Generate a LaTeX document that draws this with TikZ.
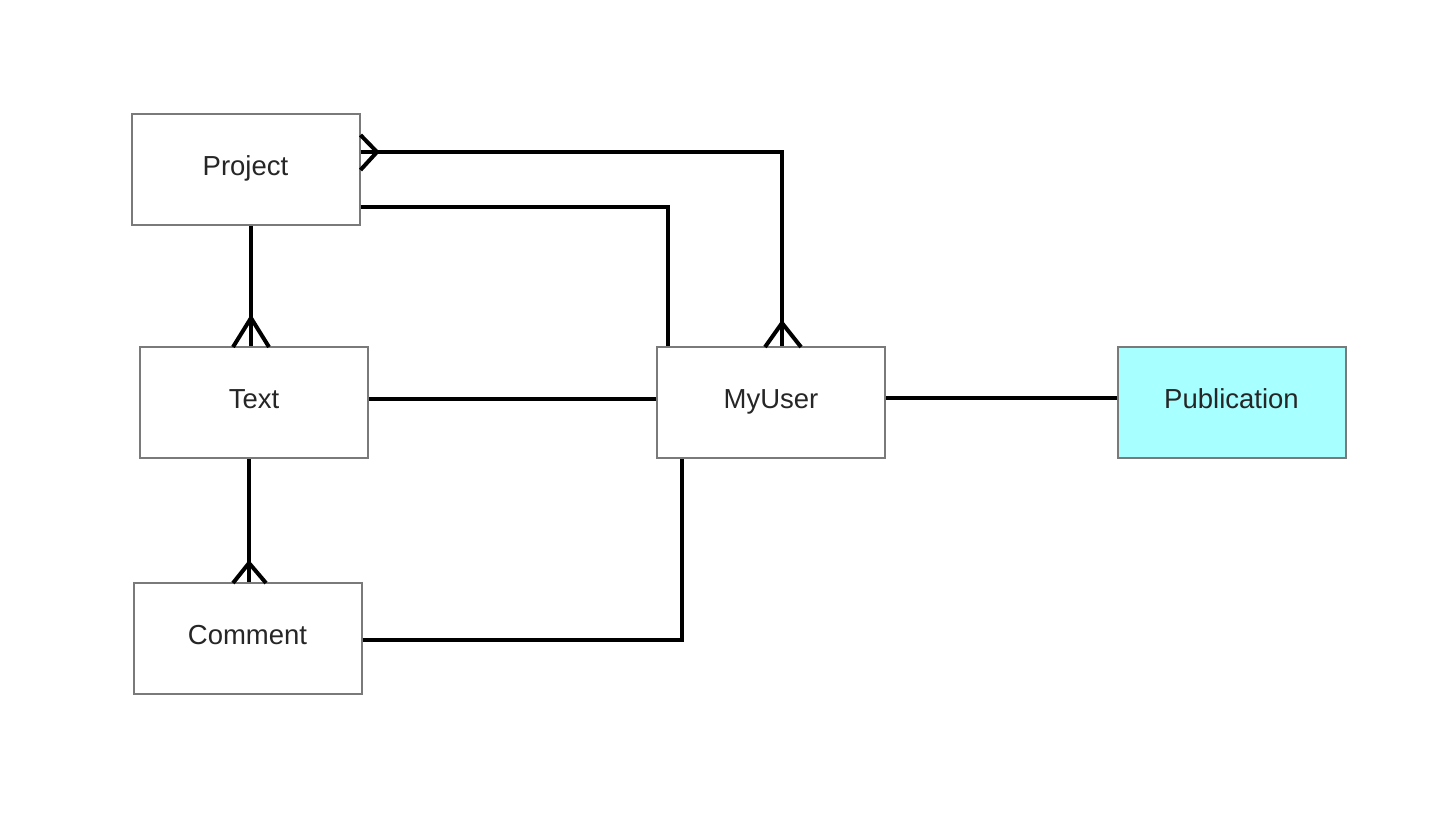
\documentclass[tikz,border=0pt]{standalone}
\usepackage{fontspec}
\setmainfont{Liberation Sans}
\definecolor{pubfill}{HTML}{A8FFFF}
\definecolor{boxline}{HTML}{7A7A7A}
\begin{document}
\begin{tikzpicture}[x=1pt,y=-1pt,
  ent/.style={draw=boxline,line width=2pt,fill=white,minimum width=228pt,minimum height=111pt,inner sep=0pt,text height=19pt,text depth=7pt,font=\fontsize{27.5}{32}\selectfont,text=black!85},
  rel/.style={line width=4pt,black}]
\useasboundingbox (0,0) rectangle (1449,815);
\node[ent] (project) at (245.5,169.5) {Project};
\node[ent] (text) at (254,402.5) {Text};
\node[ent] (myuser) at (771,402.5) {MyUser};
\node[ent,fill=pubfill] (pub) at (1231.5,402.5) {Publication};
\node[ent] (comment) at (247.5,638.5) {Comment};
% Project -- MyUser (crow's feet at both ends)
\coordinate (pA) at (project.east |- 0,152);
\coordinate (pAapex) at (377,152);
\draw[rel] (pA) -- (782,152) -- (myuser.north -| 782,0);
\draw[rel] (project.east |- 0,135) -- (pAapex) -- (project.east |- 0,170);
\draw[rel] (765,347) -- (782,323) -- (801,347);
% Project -- MyUser second
\draw[rel] (project.east |- 0,207) -- (668,207) -- (myuser.north -| 668,0);
% Project -- Text
\draw[rel] (project.south -| 251,0) -- (text.north -| 251,0);
\draw[rel] (233,347) -- (251,318) -- (269,347);
% Text -- MyUser
\draw[rel] (text.east |- 0,399) -- (myuser.west |- 0,399);
% Text -- Comment
\draw[rel] (text.south -| 249,0) -- (comment.north -| 249,0);
\draw[rel] (233,583) -- (249,563) -- (266,583);
% Comment -- MyUser
\draw[rel] (comment.east |- 0,640) -- (682,640) -- (myuser.south -| 682,0);
% MyUser -- Publication
\draw[rel] (myuser.east |- 0,398) -- (pub.west |- 0,398);
\end{tikzpicture}
\end{document}
